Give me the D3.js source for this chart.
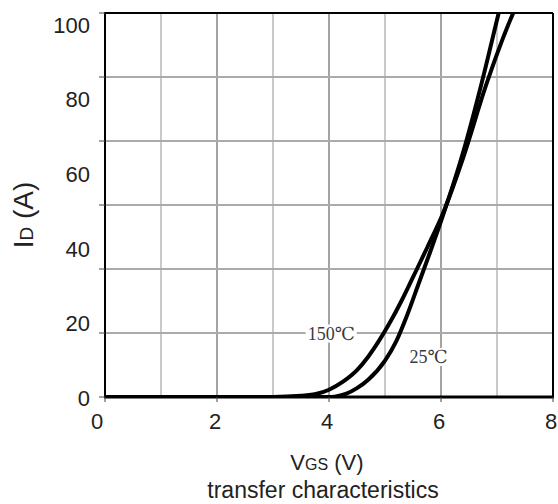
<!DOCTYPE html>
<html>
<head>
<meta charset="utf-8">
<script src="https://cdn.jsdelivr.net/npm/d3@7"></script>
<style>
  body { margin: 0; background: #fff; }
  svg { display: block; }
</style>
</head>
<body>
<svg id="chart" width="558" height="504"></svg>
<script>
// values
var vgs25 = [0, 3.0, 4.0, 4.1, 4.3, 4.5, 4.7, 5.0, 5.2, 5.4, 5.6, 5.8, 6.04, 6.4, 6.73, 7.03, 7.2];
var id25 = [0, 0, 0, 0.1, 0.8, 2.3, 4.5, 9.5, 14.5, 21.5, 29.5, 37.5, 47.5, 64, 82, 100, 110];
var vgs150 = [0, 3.0, 3.5, 3.8, 4.0, 4.25, 4.5, 4.7, 4.9, 5.1, 5.3, 5.5, 5.75, 6.04, 6.4, 6.8, 7.29, 7.45];
var id150 = [0, 0, 0.3, 0.9, 1.9, 4.0, 7.0, 10.5, 14.8, 19.7, 25.2, 31.2, 38.8, 48, 62.5, 81, 100, 105];
var xTicks = [0, 2, 4, 6, 8];
var yTicks = [0, 20, 40, 60, 80, 100];

var svg = d3.select("#chart");
var font = "'Liberation Sans', Arial, sans-serif";

var x = d3.scaleLinear().domain([0, 8]).range([105, 553]);
var y = d3.scaleLinear().domain([0, 100]).range([397, 13]);
// the sheet prints its y labels on a slightly shifted scale
var yLab = d3.scaleLinear().domain([0, 100]).range([398, 25]);

// grid
var vLines = d3.range(1, 8);
svg.selectAll("line.vg")
    .data(vLines)
    .enter()
    .append("line")
    .attr("class", "vg")
    .attr("x1", d => x(d)).attr("x2", d => x(d))
    .attr("y1", y(0)).attr("y2", y(100))
    .attr("stroke", d => d % 2 == 0 ? "#a3a3a3" : "#c9c9c9")
    .attr("stroke-width", 2);

var hLines = d3.range(1, 6).map(i => i * 100 / 6);
svg.selectAll("line.hg")
    .data(hLines)
    .enter()
    .append("line")
    .attr("class", "hg")
    .attr("x1", x(0)).attr("x2", x(8))
    .attr("y1", d => y(d)).attr("y2", d => y(d))
    .attr("stroke", "#aaaaaa")
    .attr("stroke-width", 2);

// curves
svg.append("clipPath").attr("id", "clip")
    .append("rect")
    .attr("x", x(0)).attr("y", y(100))
    .attr("width", x(8) - x(0)).attr("height", y(0) - y(100));

var line = d3.line()
    .x(d => x(d[0]))
    .y(d => y(d[1]))
    .curve(d3.curveMonotoneX);

[[vgs25, id25], [vgs150, id150]].forEach(function (s) {
    svg.append("path")
        .datum(d3.zip(s[0], s[1]))
        .attr("d", line)
        .attr("clip-path", "url(#clip)")
        .attr("fill", "none")
        .attr("stroke", "#000")
        .attr("stroke-width", 4);
});

// curve labels
function tag(text, vx, vy) {
    var t = svg.append("text")
        .attr("x", x(vx)).attr("y", y(vy))
        .attr("dy", "0.35em")
        .attr("text-anchor", "middle")
        .attr("font-family", "'Liberation Serif', 'DejaVu Serif', serif")
        .attr("font-size", 18)
        .attr("fill", "#3a3a3a")
        .text(text);
    var b = t.node().getBBox();
    svg.insert("rect", function () { return t.node(); })
        .attr("x", b.x - 2).attr("y", b.y + 1)
        .attr("width", b.width + 4).attr("height", b.height - 2)
        .attr("fill", "#fff");
}
tag("150℃", 4.04, 16.6);
tag("25℃", 5.78, 10.5);

// frame
svg.append("line").attr("x1", x(0)).attr("x2", x(8)).attr("y1", y(100)).attr("y2", y(100))
    .attr("stroke", "#000").attr("stroke-width", 2);
svg.append("line").attr("x1", x(8)).attr("x2", x(8)).attr("y1", y(100)).attr("y2", y(0))
    .attr("stroke", "#000").attr("stroke-width", 2);
svg.append("line").attr("x1", x(0)).attr("x2", x(0)).attr("y1", y(100) - 1).attr("y2", y(0) + 1)
    .attr("stroke", "#000").attr("stroke-width", 2);
svg.append("line").attr("x1", x(0) - 1).attr("x2", x(8) + 1).attr("y1", y(0)).attr("y2", y(0))
    .attr("stroke", "#000").attr("stroke-width", 3);

// tick marks
svg.selectAll("line.yt")
    .data(d3.range(0, 7).map(i => i * 100 / 6))
    .enter()
    .append("line")
    .attr("x1", x(0) - 6).attr("x2", x(0))
    .attr("y1", d => y(d)).attr("y2", d => y(d))
    .attr("stroke", "#444").attr("stroke-width", 1);
svg.selectAll("line.xt")
    .data(xTicks)
    .enter()
    .append("line")
    .attr("x1", d => x(d)).attr("x2", d => x(d))
    .attr("y1", y(0)).attr("y2", y(0) + 5)
    .attr("stroke", "#444").attr("stroke-width", 1);

// tick labels
svg.selectAll("text.yl")
    .data(yTicks)
    .enter()
    .append("text")
    .attr("x", 90)
    .attr("y", d => yLab(d))
    .attr("dy", "0.35em")
    .attr("text-anchor", "end")
    .attr("font-family", font)
    .attr("font-size", 22)
    .attr("fill", "#222")
    .text(d => d);

svg.selectAll("text.xl")
    .data(xTicks)
    .enter()
    .append("text")
    .attr("x", d => x(d) - (d == 0 ? 8 : 2))
    .attr("y", 421)
    .attr("dy", "0.35em")
    .attr("text-anchor", "middle")
    .attr("font-family", font)
    .attr("font-size", 22)
    .attr("fill", "#222")
    .text(d => d);

// axis titles
var yt = svg.append("text")
    .attr("transform", "translate(33,215) rotate(-90)")
    .attr("text-anchor", "middle")
    .attr("font-family", font)
    .attr("font-size", 28)
    .attr("fill", "#222");
yt.append("tspan").text("I");
yt.append("tspan").attr("font-size", 19).text("D");
yt.append("tspan").text(" (A)");

var xt = svg.append("text")
    .attr("x", 327).attr("y", 470)
    .attr("text-anchor", "middle")
    .attr("font-family", font)
    .attr("font-size", 22)
    .attr("fill", "#222");
xt.append("tspan").text("V");
xt.append("tspan").attr("font-size", 16).text("GS");
xt.append("tspan").text(" (V)");

svg.append("text")
    .attr("x", 323).attr("y", 498)
    .attr("text-anchor", "middle")
    .attr("font-family", font)
    .attr("font-size", 23)
    .attr("fill", "#222")
    .text("transfer characteristics");
</script>
</body>
</html>
